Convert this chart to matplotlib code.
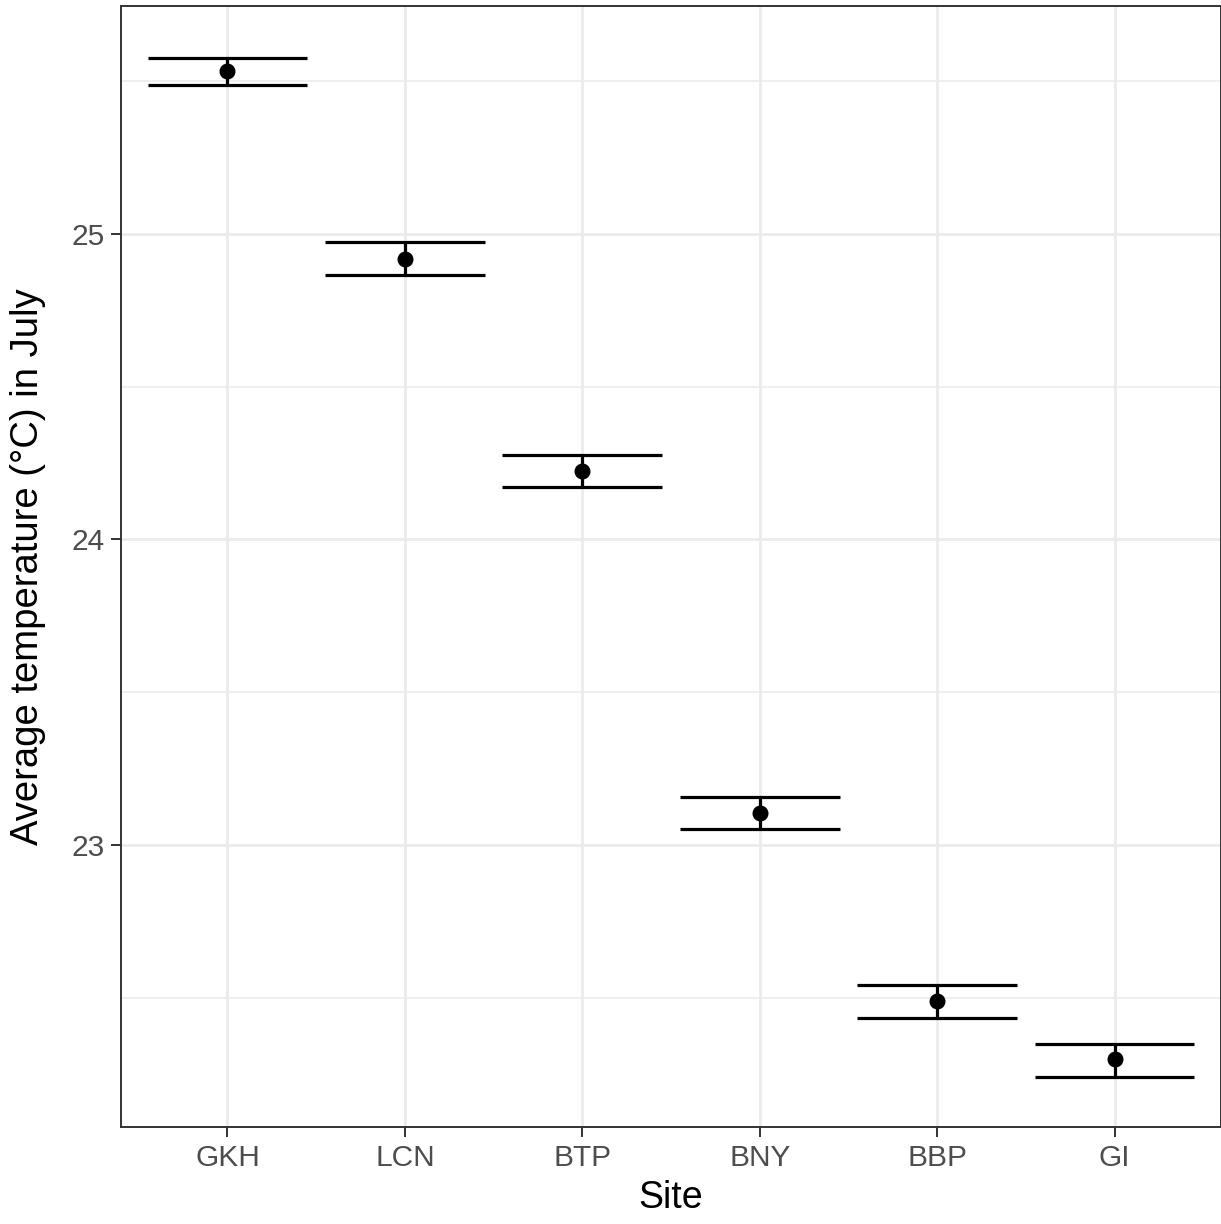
import numpy as np
import matplotlib
matplotlib.use("Agg")
import matplotlib.pyplot as plt

# site means and error bar limits
sites = ["GKH", "LCN", "BTP", "BNY", "BBP", "GI"]
temp_mean = [25.533, 24.918, 24.225, 23.105, 22.490, 22.301]
temp_upper = [25.575, 24.974, 24.275, 23.157, 22.542, 22.350]
temp_lower = [25.487, 24.866, 24.173, 23.052, 22.435, 22.242]

plt.rcParams['font.family'] = ['Liberation Sans', 'DejaVu Sans']

fig = plt.figure(figsize=(12.21, 12.24), dpi=100)
ax = fig.add_axes([121/1221, 97/1224, 1 - 121/1221, 1121/1224])

x = np.arange(1, len(sites) + 1)

# background grid like theme_bw
for yv in [22.5, 23.5, 24.5, 25.5]:
    ax.axhline(yv, color='#EBEBEB', lw=1.1, zorder=0)
for yv in [23, 24, 25]:
    ax.axhline(yv, color='#EBEBEB', lw=2.0, zorder=0)
for xv in x:
    ax.axvline(xv, color='#EBEBEB', lw=2.0, zorder=0)

# error bars
ax.vlines(x, temp_lower, temp_upper, color='black', lw=2.3, zorder=2)
ax.hlines(temp_upper, x - 0.45, x + 0.45, color='black', lw=2.3, zorder=2)
ax.hlines(temp_lower, x - 0.45, x + 0.45, color='black', lw=2.3, zorder=2)
ax.plot(x, temp_mean, 'o', color='black', ms=10.5, zorder=3)

ax.set_xlim(0.4, 6.6)
ax.set_ylim(22.078, 25.745)
ax.set_xticks(x)
ax.set_xticklabels(sites)
ax.set_yticks([23, 24, 25])

for s in ax.spines.values():
    s.set_color('#333333')
    s.set_linewidth(1.4)

ax.tick_params(axis='both', colors='#333333', labelcolor='#4D4D4D',
               labelsize=21.5, length=7, width=1.4, pad=5)

ax.set_xlabel("Site", fontsize=27, color='black', labelpad=6)
ax.set_ylabel("Average temperature (\u00b0C) in July", fontsize=27.5,
              color='black', labelpad=18)

fig.savefig("out.png", dpi=100)
